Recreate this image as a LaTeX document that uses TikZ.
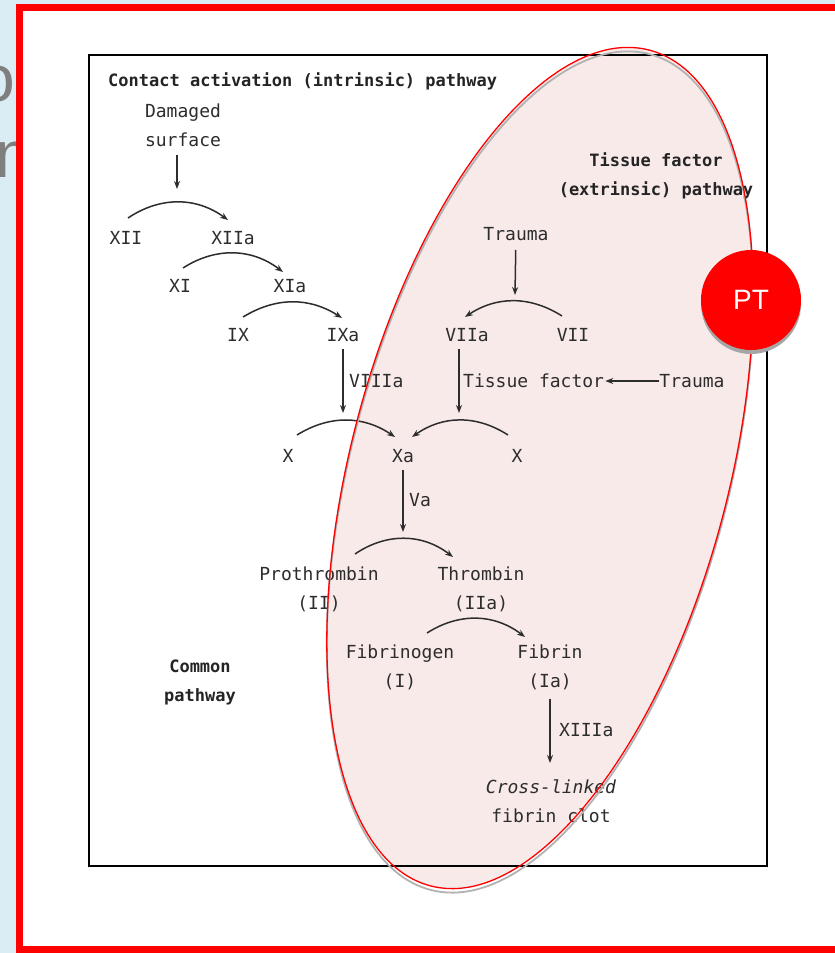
\documentclass[tikz,border=0pt]{standalone}
\usepackage{fontspec}
\setmainfont{DejaVu Sans Mono}
\newfontfamily\badgefont{Liberation Sans}
\usetikzlibrary{arrows.meta,positioning,shapes.geometric,shadows}
\definecolor{ink}{RGB}{45,45,45}
\definecolor{slate}{RGB}{127,127,127}
\definecolor{sky}{RGB}{219,237,244}
\definecolor{blush}{RGB}{249,234,234}
\definecolor{signal}{RGB}{255,0,0}
\tikzset{
  >={Stealth[length=8pt,width=6pt]},
  fac/.style={text=ink,font=\fontsize{18}{29}\selectfont,inner sep=0pt,align=center},
  hdr/.style={text=ink!80!black,font=\fontsize{17}{29}\selectfont\bfseries,inner sep=0pt,align=center},
  frag/.style={text=slate,font=\badgefont\fontsize{66}{66}\selectfont,inner sep=0pt},
  flow/.style={->,draw=ink,line width=1.5pt},
  conv/.style={->,draw=ink,line width=1.5pt},
  zone/.style={x radius=432pt,y radius=189pt,rotate=75.3},
  badge/.style={circle,fill=signal,minimum size=100pt,inner sep=0pt,text=white,
    font=\badgefont\fontsize{28}{28}\selectfont,
    drop shadow={shadow xshift=0pt,shadow yshift=-4pt,fill=gray!70,opacity=1}},
}

\begin{document}
\begin{tikzpicture}[x=1pt,y=1pt]
  \useasboundingbox (0,0) rectangle (835,-953);
  \clip (0,0) rectangle (835,-953);
  % slide behind
  \fill[sky] (0,0) rectangle (835,-953);
  \node[frag] (frag1) at (-3,-84.5) {o};
  \node[frag,anchor=west] (frag2) at (-4.4,-160) {m};
  \draw[signal,line width=7pt,fill=white] (19.5,-7.5) rectangle (850,-949.5);
  % highlighted region
  \fill[blush] (540,-468) ellipse[zone];
  \draw[black,line width=1.5pt] (89,-55) rectangle (767,-866);

  % factors
  \foreach \n/\t/\x/\y in {xii/XII/126/238, xiia/XIIa/233/238, xi/XI/180/286, xia/XIa/290/286,
      ix/IX/238/335, ixa/IXa/343/335, viia/VIIa/467/335, vii/VII/573/335,
      xl/X/288/456, xa/Xa/403/456, xr/X/517/456}
    \node[fac] (\n) at (\x,-\y) {\t};

  \node[hdr,anchor=west] (intr) at (108,-81) {Contact activation (intrinsic) pathway};
  \node[fac] (dmg) at (183,-125) {Damaged\\surface};
  \node[hdr] (extr) at (656,-176) {Tissue factor\\(extrinsic) pathway};
  \node[fac] (trA) at (516,-234) {Trauma};
  \node[fac,anchor=west] (viiia) at (349,-381) {VIIIa};
  \node[fac,anchor=west] (tf) at (463,-381) {Tissue factor};
  \node[fac] (trB) at (692,-381) {Trauma};
  \node[fac,anchor=west] (va) at (409,-500) {Va};
  \node[fac] (proth) at (319,-589) {Prothrombin\\(II)};
  \node[fac] (thromb) at (481,-589) {Thrombin\\(IIa)};
  \node[fac] (fibg) at (400,-667) {Fibrinogen\\(I)};
  \node[fac] (fibn) at (550,-667) {Fibrin\\(Ia)};
  \node[fac,anchor=west] (xiiia) at (559,-730) {XIIIa};
  \node[fac] (clot) at (551,-801) {{\itshape Cross-linked}\\fibrin clot};
  \node[hdr] (common) at (200,-682) {Common\\pathway};

  % activation steps
  \coordinate (jA) at (177,-189);
  \coordinate (jB) at (515,-295);
  \coordinate (jC) at (343,-413);
  \coordinate (jD) at (459,-413);
  \coordinate (jE) at (403,-532);
  \coordinate (jF) at (550,-763);
  \draw[flow,shorten <=8pt] (jA |- dmg.south) -- (jA);
  \draw[flow,shorten <=9pt] (trA) -- (jB);
  \draw[flow,shorten <=7pt] (ixa) -- (jC);
  \draw[flow,shorten <=7pt] (jD |- viia.south) -- (jD);
  \draw[flow,shorten <=7pt] (xa) -- (jE);
  \draw[flow,shorten <=9pt] (fibn) -- (jF);
  \draw[flow,shorten >=1pt] (trB) -- (tf);

  \draw[conv] ([shift={(2,20)}]xii.center) to[bend left=35] ([shift={(-5,18)}]xiia.center);
  \draw[conv] ([shift={(3,18)}]xi.center) to[bend left=35] ([shift={(-7,14)}]xia.center);
  \draw[conv] ([shift={(5,18)}]ix.center) to[bend left=32] ([shift={(-1,17)}]ixa.center);
  \draw[conv] ([shift={(-11,19)}]vii.center) to[bend right=33] ([shift={(-2,18)}]viia.center);
  \draw[conv] ([shift={(9,21)}]xl.center) to[bend left=33] ([shift={(-8,19)}]xa.center);
  \draw[conv] ([shift={(-9,21)}]xr.center) to[bend right=34] ([shift={(9,19)}]xa.center);
  \draw[conv] ([shift={(36,35)}]proth.center) to[bend left=36] ([shift={(-28,32)}]thromb.center);
  \draw[conv] ([shift={(27,34)}]fibg.center) to[bend left=35] ([shift={(-25,30)}]fibn.center);

  % outline of the region and badge
  \draw[gray!60,line width=1.8pt] (540,-472) ellipse[zone];
  \draw[signal,line width=1.3pt] (540,-468) ellipse[zone];
  \node[badge] (pt) at (751,-300) {PT};
\end{tikzpicture}
\end{document}
